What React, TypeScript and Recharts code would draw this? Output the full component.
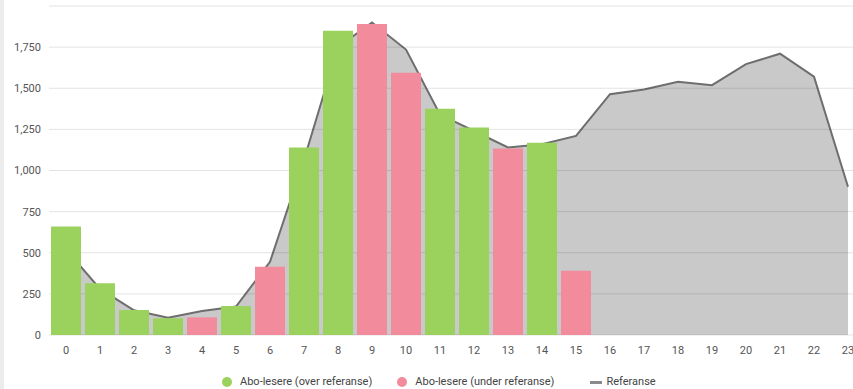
import React from 'react';
import { ComposedChart, Bar, Area, XAxis, YAxis, CartesianGrid } from 'recharts';

// time of day (hour)
const hours = ['0', '1', '2', '3', '4', '5', '6', '7', '8', '9', '10', '11', '12', '13', '14', '15', '16', '17', '18', '19', '20', '21', '22', '23'];

// subscribers above / below reference (null where the other series applies or no data)
const overRef = [660, 315, 152, 102, null, 176, null, 1140, 1849, null, null, 1375, 1262, null, 1168, null, null, null, null, null, null, null, null, null];
const underRef = [null, null, null, null, 107, null, 415, null, null, 1890, 1594, null, null, 1134, null, 391, null, null, null, null, null, null, null, null];

// reference curve
const reference = [520, 280, 150, 105, 146, 173, 445, 1065, 1750, 1900, 1735, 1340, 1240, 1140, 1160, 1210, 1464, 1493, 1539, 1519, 1647, 1710, 1570, 901];

const yTicks = [0, 250, 500, 750, 1000, 1250, 1500, 1750];

const GREEN = '#9bd25e';
const PINK = '#f28b9b';
const FONT = 'Roboto, sans-serif';

const data = hours.map((h, i) => ({
  hour: h,
  over: overRef[i],
  under: underRef[i],
  referanse: reference[i],
}));

function LegendItem({ color, label, line, gap }: { color: string; label: string; line?: boolean; gap: number }) {
  return (
    <div style={{ display: 'flex', alignItems: 'center', marginRight: gap }}>
      {line ? (
        <span style={{ width: 12, height: 3, background: '#8a8a8a', marginRight: 4, display: 'inline-block' }} />
      ) : (
        <span style={{ width: 10, height: 10, borderRadius: '50%', background: color, marginRight: 8, display: 'inline-block' }} />
      )}
      <span>{label}</span>
    </div>
  );
}

export default function App() {
  return (
    <div style={{ position: 'absolute', left: 0, top: 0, width: 853, height: 389, overflow: 'hidden', background: '#fff', fontFamily: FONT }}>
      <div style={{ position: 'absolute', left: 0, top: 0, width: 4, height: 389, background: '#ececec' }} />
      <ComposedChart width={865} height={389} data={data} margin={{ top: 6, right: 0, bottom: 24, left: 0 }} barCategoryGap={2}>
        <Area
          dataKey="referanse"
          type="linear"
          fill="#c9c9c9"
          fillOpacity={1}
          stroke="#6e6e6e"
          strokeWidth={2}
          dot={false}
          activeDot={false}
          isAnimationActive={false}
        />
        <CartesianGrid vertical={false} stroke="rgba(0,0,0,0.11)" zIndex={150} />
        <XAxis
          dataKey="hour"
          tickLine={false}
          axisLine={false}
          interval={0}
          height={30}
          tickMargin={5}
          tick={{ fontSize: 11, fill: '#555', fontFamily: FONT }}
        />
        <YAxis
          width={49}
          domain={[0, 2000]}
          ticks={yTicks}
          tickLine={false}
          axisLine={false}
          tickFormatter={(v) => Number(v).toLocaleString('en-US')}
          tick={{ fontSize: 11, fill: '#555', fontFamily: FONT }}
        />
        <Bar dataKey="over" stackId="s" fill={GREEN} isAnimationActive={false} />
        <Bar dataKey="under" stackId="s" fill={PINK} isAnimationActive={false} />
      </ComposedChart>
      <div
        style={{
          position: 'absolute',
          left: 222,
          top: 374,
          display: 'flex',
          fontSize: 11,
          color: '#444',
          lineHeight: '16px',
          whiteSpace: 'nowrap',
        }}
      >
        <LegendItem color={GREEN} label="Abo-lesere (over referanse)" gap={25} />
        <LegendItem color={PINK} label="Abo-lesere (under referanse)" gap={36} />
        <LegendItem color="#8a8a8a" label="Referanse" line gap={0} />
      </div>
    </div>
  );
}
